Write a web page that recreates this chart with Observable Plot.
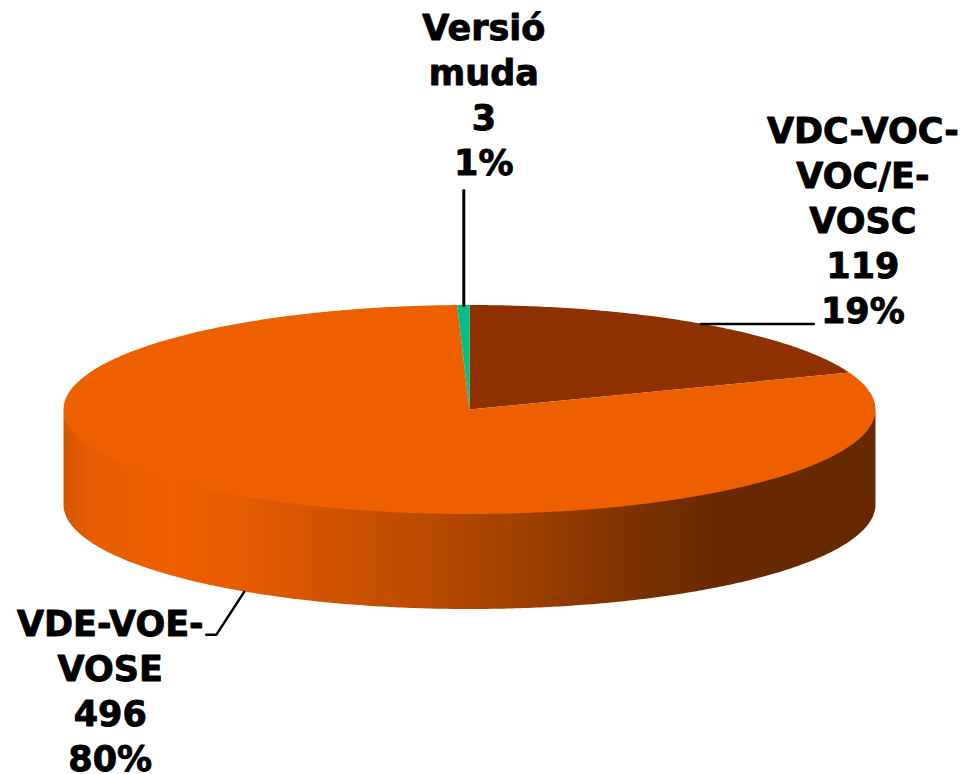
<!DOCTYPE html>
<html>
<head>
<meta charset="utf-8">
<script src="https://cdn.jsdelivr.net/npm/d3@7"></script>
<script src="https://cdn.jsdelivr.net/npm/@observablehq/plot@0.6"></script>
<style>html,body{margin:0;padding:0;background:#fff}svg{display:block}</style>
</head>
<body>
<div id="chart"></div>
<script>
// Data, clockwise from twelve o'clock
const categories = ["VDC-VOC-\nVOC/E-\nVOSC", "VDE-VOE-\nVOSE", "Versió\nmuda"];
const counts = [119, 496, 3];
const percents = [19, 80, 1];

// Styles and layout
const colors = ["#8E3000", "#EE5F00", "#00C08A"];
const W = 963, H = 774;
const cx = 469.5, cy = 409.5, rx = 406, ry = 104.5, depth = 95;
const leaderOffsets = [
  {side: false, width: 2.5, bends: [[113, 0]], label: [162, -105]},
  {side: true, width: 2.5, bends: [[-28, 43], [-38, 43]], label: [-134, 97]},
  {side: false, width: 3, bends: [[0, -115]], label: [20, -212.5]}
];
const sideStops = [
  [64, "#D65600"], [90, "#E65C00"], [170, "#EE5F00"], [240, "#E65C00"],
  [330, "#D05300"], [430, "#B84A00"], [520, "#A04000"], [620, "#803300"],
  [720, "#662900"], [876, "#662900"]
];

const total = d3.sum(counts);
const point = (a, dy = 0) => ({x: cx + rx * Math.sin(a), y: cy - ry * Math.cos(a) + dy});
const arc = (a0, a1, dy = 0) => {
  const n = Math.max(2, Math.ceil((a1 - a0) / 0.01));
  return d3.range(n + 1).map(i => point(a0 + (a1 - a0) * i / n, dy));
};

let acc = 0;
const slices = categories.map((name, i) => {
  const a0 = acc / total * 2 * Math.PI;
  acc += counts[i];
  const a1 = acc / total * 2 * Math.PI;
  const mid = (a0 + a1) / 2;
  const off = leaderOffsets[i];
  const start = point(mid, off.side ? depth : 0);
  return {
    name, i, a0, a1, start,
    text: `${name}\n${counts[i]}\n${percents[i]}%`,
    leader: [start, ...off.bends.map(([dx, dy]) => ({x: start.x + dx, y: start.y + dy}))],
    lx: start.x + off.label[0], ly: start.y + off.label[1]
  };
});

const wedges = slices.flatMap(s => arc(s.a0, s.a1).map(p => ({...p, i: s.i})));
const front = arc(Math.PI / 2, 3 * Math.PI / 2);
const sideBand = front.map(p => ({x: p.x, y1: p.y - 1, y2: p.y + depth}));
const leaders = slices.flatMap(s => s.leader.map(p => ({...p, i: s.i})));

const defs = () => {
  const d = d3.create("svg:defs");
  const g = d.append("linearGradient").attr("id", "sideFill")
    .attr("gradientUnits", "userSpaceOnUse")
    .attr("x1", cx - rx).attr("x2", cx + rx).attr("y1", 0).attr("y2", 0);
  for (const [x, c] of sideStops) {
    g.append("stop").attr("offset", (x - (cx - rx)) / (2 * rx)).attr("stop-color", c);
  }
  return d.node();
};

const chart = Plot.plot({
  width: W, height: H,
  margin: 0,
  style: {background: "#fff"},
  x: {domain: [0, W], range: [0, W], axis: null},
  y: {domain: [0, H], range: [0, H], axis: null},
  marks: [
    defs,
    Plot.areaY(sideBand, {x: "x", y1: "y1", y2: "y2", fill: "url(#sideFill)", curve: "linear"}),
    ...slices.map(s => Plot.area(wedges.filter(d => d.i === s.i), {
      x1: "x", y1: "y", x2: () => cx, y2: () => cy, fill: colors[s.i], curve: "linear"
    })),
    ...slices.map(s => Plot.line(leaders.filter(d => d.i === s.i), {
      x: "x", y: "y", stroke: "#000", strokeWidth: leaderOffsets[s.i].width, curve: "linear", strokeLinejoin: "miter"
    })),
    Plot.text(slices, {
      x: "lx", y: "ly", text: "text",
      fontFamily: "'DejaVu Sans'", fontWeight: 700, fontSize: 35,
      lineHeight: 1.285, lineAnchor: "middle", textAnchor: "middle",
      fill: "#000", stroke: "#000", strokeWidth: 0.9
    })
  ]
});
document.getElementById("chart").append(chart);
</script>
</body>
</html>
